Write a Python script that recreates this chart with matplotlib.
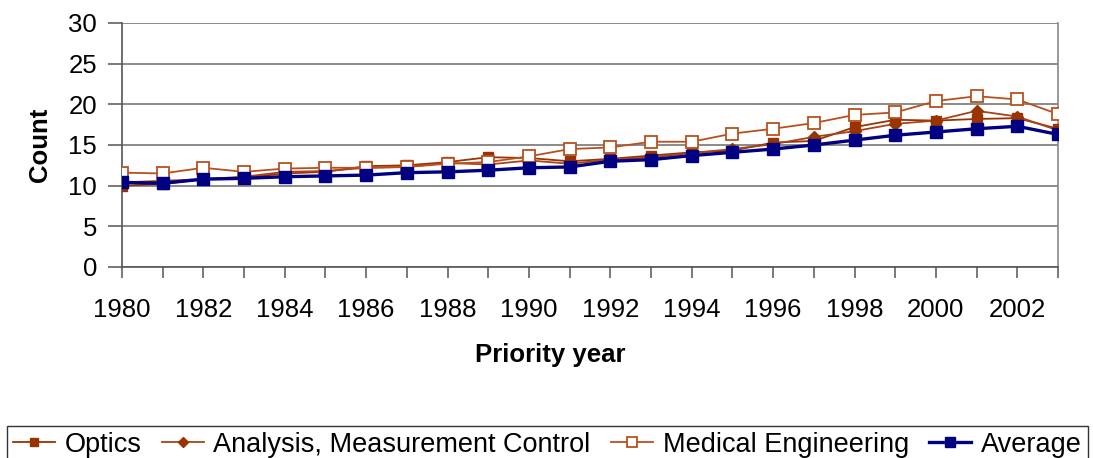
import matplotlib
matplotlib.use("Agg")
import matplotlib.pyplot as plt

years = list(range(1980, 2004))
optics = [10.0, 10.2, 10.8, 11.0, 11.5, 11.7, 12.4, 12.5, 12.9, 13.5, 13.4, 13.0,
          13.3, 13.7, 14.1, 14.3, 15.3, 15.5, 17.2, 18.1, 18.0, 18.2, 18.3, 17.0]
analysis = [10.4, 10.6, 10.8, 11.1, 11.7, 11.8, 12.2, 12.3, 12.8, 12.6, 13.1, 12.7,
            13.2, 13.5, 14.0, 14.5, 15.1, 16.0, 16.7, 17.6, 18.0, 19.2, 18.5, 16.8]
medical = [11.6, 11.5, 12.2, 11.7, 12.1, 12.2, 12.2, 12.3, 12.7, 12.9, 13.6, 14.5,
           14.7, 15.4, 15.4, 16.4, 17.0, 17.7, 18.7, 19.0, 20.4, 21.0, 20.6, 18.8]
average = [10.4, 10.3, 10.8, 10.9, 11.1, 11.2, 11.3, 11.6, 11.7, 11.9, 12.2, 12.3,
           13.0, 13.2, 13.7, 14.1, 14.5, 15.0, 15.6, 16.2, 16.6, 17.0, 17.3, 16.3]
labels = ["Optics", "Analysis, Measurement Control", "Medical Engineering", "Average"]

plt.rcParams['font.family'] = ['Liberation Sans', 'DejaVu Sans']
fig = plt.figure(figsize=(10.93, 4.58), dpi=100)
W, H = 1093, 458
ax = fig.add_axes([122 / W, 1 - 267 / H, (1058 - 122) / W, (267 - 23) / H])

l1, = ax.plot(years, optics, color='#993300', lw=1.3, marker='s', ms=7,
              mfc='#993300', mec='#993300', zorder=3)
l2, = ax.plot(years, analysis, color='#A8421A', lw=1.3, marker='D', ms=6,
              mfc='#993300', mec='#993300', zorder=3)
l3, = ax.plot(years, medical, color='#B8501E', lw=1.3, marker='s', ms=8,
              mfc='white', mec='#B8501E', mew=1.3, zorder=3)
l4, = ax.plot(years, average, color='#000080', lw=2.4, marker='s', ms=8,
              mfc='#000080', mec='#000080', zorder=4)

ax.set_xlim(1980, 2003)
ax.set_ylim(0, 30)
ax.set_yticks(range(0, 31, 5))
ax.set_xticks(years)
ax.set_xticklabels([str(y) if y % 2 == 0 else '' for y in years])
ax.yaxis.grid(True, color='#777777', lw=1.2)
ax.set_axisbelow(True)
ax.spines['top'].set_visible(False)
ax.spines['right'].set_color('#888888')
ax.spines['left'].set_color('#555555')
ax.spines['bottom'].set_color('#555555')
for s in ['left', 'bottom', 'right']:
    ax.spines[s].set_linewidth(1.2)
ax.tick_params(axis='both', labelsize=18.5, width=1.1, color='#555555')
ax.tick_params(axis='y', length=10, pad=8)
ax.tick_params(axis='x', length=8, pad=14)
ax.set_ylabel('Count', fontsize=18.5, fontweight='bold', labelpad=12)
fig.text(550 / W, 1 - 355 / H, 'Priority year', fontsize=18.5, fontweight='bold',
         ha='center', va='center')

leg = fig.legend([l1, l2, l3, l4], labels, loc='upper left',
                 bbox_to_anchor=(7 / W, 1 - 426 / H), ncol=4,
                 fontsize=19.5, frameon=True, fancybox=False, edgecolor='black',
                 handlelength=1.55, handletextpad=0.35, columnspacing=0.76,
                 borderpad=0.22, borderaxespad=0, markerscale=0.85)
leg.get_frame().set_linewidth(1.0)

fig.savefig('out.png', dpi=100)
